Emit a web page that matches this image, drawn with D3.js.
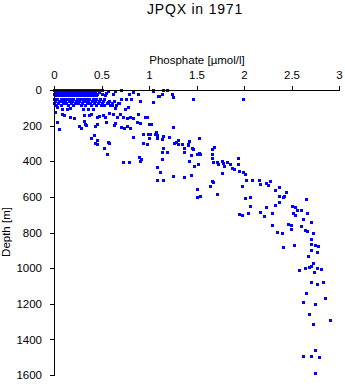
<!DOCTYPE html>
<html><head><meta charset="utf-8">
<script src="https://cdn.jsdelivr.net/npm/d3@7"></script>
<style>body{margin:0;background:#fff}</style>
</head><body><svg id="c" width="345" height="384"></svg>
<script>
const title = "JPQX in 1971";
const xLabel = "Phosphate [µmol/l]";
const yLabel = "Depth [m]";
const xTicks = [0, 0.5, 1, 1.5, 2, 2.5, 3];
const xTickLabels = ["0", "0.5", "1", "1.5", "2", "2.5", "3"];
const yTicks = [0, 200, 400, 600, 800, 1000, 1200, 1400, 1600];
const yTickLabels = ["0", "200", "400", "600", "800", "1000", "1200", "1400", "1600"];

// dense surface layer: one depth per row, phosphate values read along the row
const surfaceDepths = [0, 10, 20, 30, 50, 60, 72, 85];
const surfaceRows = [
  [0.00,0.03,0.06,0.09,0.12,0.15,0.18,0.21,0.24,0.27,0.30,0.33,0.36,0.39,0.42,0.45,0.48],
  [0.01,0.04,0.07,0.10,0.13,0.16,0.19,0.22,0.25,0.28,0.31,0.34,0.37,0.40,0.43,0.47],
  [0.00,0.03,0.06,0.09,0.12,0.15,0.18,0.21,0.24,0.27,0.30,0.33,0.36,0.39,0.42,0.45,0.50],
  [0.02,0.05,0.08,0.11,0.14,0.17,0.20,0.23,0.26,0.29,0.32,0.35,0.38,0.41,0.44,0.54],
  [0.00,0.03,0.07,0.10,0.14,0.17,0.20,0.24,0.27,0.31,0.34,0.37,0.41,0.44,0.48,0.53],
  [0.01,0.05,0.08,0.12,0.16,0.19,0.23,0.26,0.30,0.33,0.36,0.40,0.43,0.47,0.52,0.58,0.63],
  [0.00,0.04,0.09,0.13,0.18,0.22,0.25,0.29,0.35,0.38,0.42,0.46,0.50,0.56,0.61,0.68],
  [0.02,0.07,0.15,0.20,0.28,0.33,0.39,0.44,0.49,0.53,0.59,0.65]
];

// remaining samples
const scatterPhosphate = [
  0.46,0.51,0.57,0.64,0.71,0.55,0.62,0.79,0.83,0.88,1.04,1.09,0.91,0.57,0.71,0.76,0.81,0.61,0.67,0.64,
  0.75,0.78,0.01,0.08,0.14,0.03,0.17,0.31,0.36,0.41,0.08,0.11,0.17,0.21,0.32,0.37,0.39,0.45,0.47,0.52,
  0.54,0.58,0.62,0.66,0.69,0.73,0.77,0.80,0.83,0.88,0.96,0.98,0.03,0.05,0.26,0.28,0.32,0.33,0.34,0.43,
  0.45,0.55,0.63,0.64,0.71,0.74,0.77,0.80,0.87,0.91,1.00,0.42,0.39,0.45,0.43,0.45,0.57,0.58,0.53,0.56,
  0.83,0.94,0.99,1.00,1.08,0.94,0.98,0.73,0.79,0.89,0.92,0.91,
  1.04,1.15,1.19,1.11,1.14,1.24,1.25,1.46,1.99,1.04,1.02,1.25,1.01,1.07,1.06,1.08,1.15,1.14,1.21,1.31,
  1.53,1.42,1.26,1.28,1.31,1.35,1.41,1.41,1.15,1.37,1.45,1.46,1.68,1.66,1.14,1.19,1.37,1.51,1.54,1.53,
  1.44,1.66,1.66,1.14,1.42,1.67,1.72,1.77,1.78,1.73,1.82,1.85,1.52,1.47,1.79,1.94,1.94,1.87,1.89,1.08,
  1.12,1.95,1.99,2.01,1.77,1.25,1.37,1.44,2.16,1.08,1.15,1.66,1.67,1.64,1.51,1.72,1.51,1.54,
  1.98,2.02,2.08,2.17,2.23,2.25,2.27,2.37,2.33,2.44,2.37,2.41,2.42,2.01,2.06,2.65,2.37,2.33,2.06,2.23,
  2.51,2.54,2.56,2.60,1.95,1.98,2.04,2.17,2.29,2.21,2.52,2.54,2.66,2.62,2.71,2.29,2.46,2.49,2.49,2.60,
  2.64,2.66,2.35,2.40,2.73,2.71,2.71,2.75,2.78,2.53,2.41,2.71,2.77,2.67,2.73,2.64,2.68,2.71,2.77,2.81,
  2.58,2.74,2.71,2.77,2.83,2.65,2.85,2.62,2.75,2.68,2.91,2.73,2.75,2.62,2.71,2.79,2.75
];
const scatterDepth = [
  0,0,6,6,0,17,22,22,11,22,6,34,62,67,51,51,51,84,73,101,
  107,95,124,107,107,95,101,107,107,107,135,140,152,157,140,140,135,152,146,140,
  152,129,135,152,135,152,157,152,157,135,152,152,180,219,202,213,174,191,196,202,
  191,180,196,185,208,213,202,213,180,185,191,253,269,281,298,303,292,298,326,359,
  264,247,247,269,253,298,303,404,404,376,387,399,
  0,0,0,34,22,22,39,51,51,67,191,208,247,236,247,269,258,275,264,281,
  269,286,298,292,303,303,303,309,326,326,326,331,320,331,348,348,348,359,359,354,
  365,359,382,387,399,404,404,399,410,415,404,415,415,427,427,382,415,438,444,432,
  460,455,460,472,466,483,488,477,505,505,505,511,516,539,556,584,601,595,
  539,505,505,528,522,533,511,545,561,573,595,601,595,606,601,612,629,646,651,657,
  651,657,674,674,696,702,691,685,691,707,691,702,691,724,741,758,752,758,780,763,
  786,792,797,803,803,836,865,870,876,870,881,898,909,932,971,999,994,988,999,1005,
  1010,1022,1078,1089,1078,1140,1168,1190,1201,1257,1291,1314,1460,1493,1493,1499,1589
];

const font = "'Liberation Sans', Arial, Helvetica, sans-serif";
const svg = d3.select("#c");
const x = d3.scaleLinear().domain([0, 3]).range([54, 339]);
const y = d3.scaleLinear().domain([0, 1600]).range([90, 375]);

const points = [];
surfaceRows.forEach((row, i) => row.forEach(p => points.push({p, d: surfaceDepths[i]})));
scatterPhosphate.forEach((p, i) => points.push({p, d: scatterDepth[i]}));

svg.append("g").selectAll("rect").data(points).join("rect")
  .attr("x", d => Math.round(x(d.p)) - 1)
  .attr("y", d => Math.round(y(d.d)) - 1)
  .attr("width", 3).attr("height", 3)
  .attr("fill", "#0000ff")
  .attr("shape-rendering", "crispEdges");

const gx = svg.append("g").attr("transform", "translate(0,90)")
  .call(d3.axisTop(x).tickValues(xTicks).tickSize(4).tickSizeOuter(0).tickPadding(7)
    .tickFormat((d, i) => xTickLabels[i]));
const gy = svg.append("g").attr("transform", "translate(54,0)")
  .call(d3.axisLeft(y).tickValues(yTicks).tickSize(4).tickSizeOuter(0).tickPadding(8)
    .tickFormat((d, i) => yTickLabels[i]));
[gx, gy].forEach(g => {
  g.attr("font-family", font).attr("font-size", 11.5);
  g.selectAll("line,path").attr("stroke", "#000").attr("shape-rendering", "crispEdges");
  g.selectAll("text").attr("fill", "#000");
});

svg.append("text").attr("x", 195).attr("y", 13.5).attr("text-anchor", "middle")
  .attr("font-family", font).attr("font-size", 14).attr("letter-spacing", 0.8)
  .text(title);
svg.append("text").attr("x", 197).attr("y", 64).attr("text-anchor", "middle")
  .attr("font-family", font).attr("font-size", 11.5)
  .text(xLabel);
svg.append("text").attr("transform", "translate(10,232) rotate(-90)").attr("text-anchor", "middle")
  .attr("font-family", font).attr("font-size", 11.5)
  .text(yLabel);
</script></body></html>
